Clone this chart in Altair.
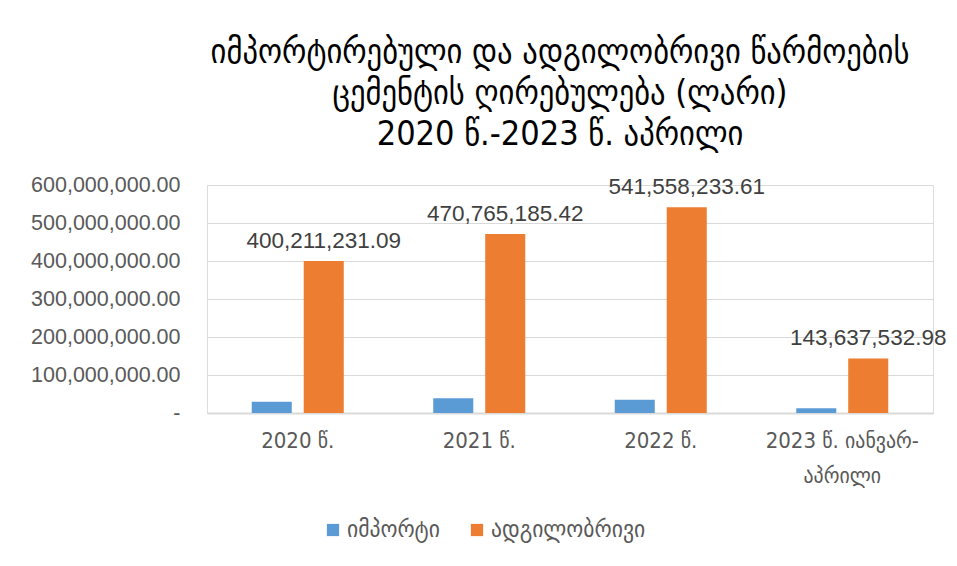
import altair as alt
import pandas as pd

categories = ["2020 წ.", "2021 წ.", "2022 წ.", "2023 წ. იანვარ-აპრილი"]
series_names = ["იმპორტი", "ადგილობრივი"]
import_values = [29500000, 38600000, 35000000, 12300000]
local_values = [400211231.09, 470765185.42, 541558233.61, 143637532.98]
title_lines = ["იმპორტირებული და ადგილობრივი წარმოების",
               "ცემენტის ღირებულება (ლარი)",
               "2020 წ.-2023 წ. აპრილი"]
y_ticks = [0, 100000000, 200000000, 300000000, 400000000, 500000000, 600000000]

rows = []
for c, v in zip(categories, import_values):
    rows.append({"category": c, "series": series_names[0], "value": v})
for c, v in zip(categories, local_values):
    rows.append({"category": c, "series": series_names[1], "value": v})
df = pd.DataFrame(rows)

GEO = "DejaVu Sans Condensed, DejaVu Sans"

x_enc = alt.X("category:N", sort=categories,
              scale=alt.Scale(paddingInner=0.493, paddingOuter=0.2465),
              axis=alt.Axis(title=None, labelAngle=0, labelFont=GEO, labelFontSize=22,
                            labelColor="#595959", labelPadding=17, labelLineHeight=35,
                            labelExpr="indexof(datum.value, 'იანვარ') > 0 ? ['2023 წ. იანვარ-', 'აპრილი'] : datum.value",
                            domainColor="#d9d9d9", domainWidth=2, ticks=False, grid=False))
xo_enc = alt.XOffset("series:N", sort=series_names,
                     scale=alt.Scale(paddingInner=0.23, paddingOuter=0))
y_enc = alt.Y("value:Q", scale=alt.Scale(domain=[0, 600000000], nice=False),
              axis=alt.Axis(title=None, values=y_ticks, labelFont="Liberation Sans",
                            labelFontSize=21.5, labelColor="#595959", labelPadding=27,
                            labelExpr="datum.value == 0 ? '-\u00a0\u00a0\u00a0' : format(datum.value, ',.2f')",
                            domain=False, ticks=False, gridColor="#d9d9d9", gridWidth=1))

base = alt.Chart(df)

bars = base.mark_bar().encode(
    x=x_enc, xOffset=xo_enc, y=y_enc,
    color=alt.Color("series:N", sort=series_names,
                    scale=alt.Scale(domain=series_names, range=["#5b9bd5", "#ed7d31"]),
                    legend=alt.Legend(title=None, orient="none", legendX=114, legendY=333,
                                      direction="horizontal", symbolType="square",
                                      symbolSize=150, symbolStrokeWidth=0,
                                      labelFont=GEO, labelFontSize=24, labelColor="#595959",
                                      columnPadding=25, labelOffset=2))
)

labels = base.transform_filter(
    alt.datum.series == series_names[1]
).transform_calculate(
    lbl="format(datum.value, ',.2f')"
).mark_text(baseline="bottom", dy=-8, font="Liberation Sans", fontSize=22.5, color="#404040").encode(
    x=x_enc, xOffset=xo_enc, y=y_enc, text="lbl:N"
)

chart = alt.layer(bars, labels).properties(
    width=726, height=228,
    title=alt.Title(text=title_lines, font=GEO, fontSize=34, fontWeight="normal",
                    color="#000000", lineHeight=41, anchor="middle", dx=-10, offset=22,
                    frame="group"),
    autosize=alt.AutoSizeParams(type="none"),
    padding={"left": 199, "top": 177, "right": 16, "bottom": 145},
).configure_view(stroke=None).configure(background="white")

chart.save("out.html", embed_options={"renderer": "svg", "actions": False})
